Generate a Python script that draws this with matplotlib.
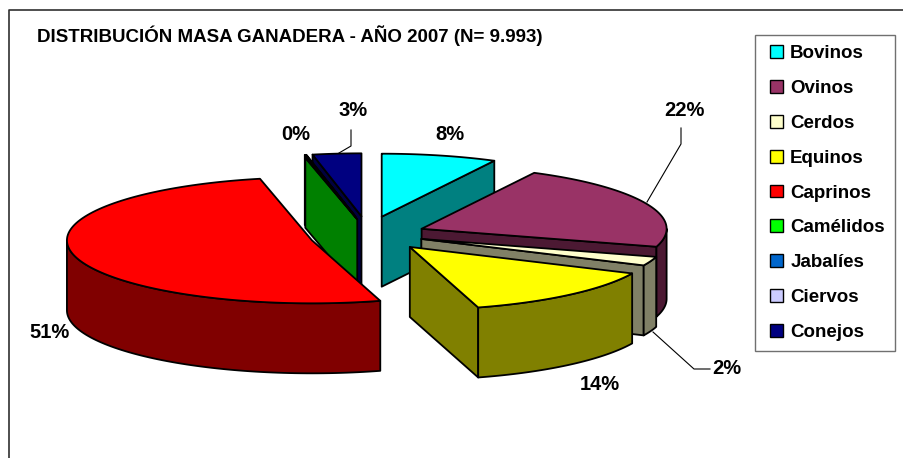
import numpy as np
import matplotlib
matplotlib.use("Agg")
import matplotlib.pyplot as plt
from matplotlib.legend_handler import HandlerPatch
from matplotlib.patches import Patch

# Data
categories = ["Bovinos", "Ovinos", "Cerdos", "Equinos", "Caprinos", "Camélidos", "Jabalíes", "Ciervos", "Conejos"]
values = [7.6, 22.0, 2.3, 13.6, 51.1, 0.1, 0.05, 0.05, 3.2]
title = "DISTRIBUCIÓN MASA GANADERA - AÑO 2007 (N= 9.993)"

# Colours
top_colors = ["#00FFFF", "#993366", "#FFFFCC", "#FFFF00", "#FF0000", "#00FF00", "#0066CC", "#CCCCFF", "#000080"]
side_colors = ["#008080", "#4C1933", "#808066", "#808000", "#800000", "#008000", "#003366", "#666680", "#000040"]

# Pie layout in pixels
cx, cy = 367.5, 231.7
rx, ry = 245, 63
depth = 70
explode = [0.245, 0.24, 0.235, 0.265, 0.234, 0.2, 0.245, 0.245, 0.245]
drop = [0, 3, 2, 2.6, 5, 0, 0, 0, 0]  # the original has some perspective
draw_order = [0, 8, 7, 6, 5, 1, 2, 4, 3]

# label position, and leader line bend points
label_pos = {0: (450, 135), 1: (684, 110), 2: (727, 368), 3: (600, 384), 4: (50, 333), 5: (296, 135), 8: (353, 111)}
leaders = {1: [(681, 128), (681, 144), (647, 202)],
           2: [(653, 332), (694, 369), (710, 369)],
           8: [(351, 130), (351, 146), (339, 153)]}

plt.rcParams["font.family"] = ["Liberation Sans", "DejaVu Sans"]
plt.rcParams["font.weight"] = "bold"

fig = plt.figure(figsize=(9.04, 4.58), dpi=100)
ax = fig.add_axes([0, 0, 1, 1])
ax.set_xlim(0, 904)
ax.set_ylim(458, 0)
ax.axis("off")

# chart frame, open at the bottom and right where the picture is cut
ax.plot([9, 9, 904], [458, 9.5, 9.5], color="#303030", lw=1.2)

edges = np.cumsum([0] + values) / sum(values) * 2 * np.pi


def point(ox, oy, t):
    return ox + rx * np.sin(t), oy - ry * np.cos(t)


def draw_face(xs, ys, color, z):
    ax.fill(xs, ys, facecolor=color, edgecolor="black", lw=1.3, joinstyle="round", zorder=z)


for z, i in enumerate(draw_order):
    t0, t1 = edges[i], edges[i + 1]
    mid = (t0 + t1) / 2
    ox = cx + explode[i] * rx * np.sin(mid)
    oy = cy - explode[i] * ry * np.cos(mid) + drop[i]
    base = 2 + z * 3

    # cut faces that look towards the viewer
    for t, visible in ((t0, np.sin(t0) < -1e-6), (t1, np.sin(t1) > 1e-6)):
        if visible:
            px, py = point(ox, oy, t)
            draw_face([ox, px, px, ox], [oy, py, py + depth, oy + depth], side_colors[i], base)

    # outer wall, front half only
    a0, a1 = max(t0, np.pi / 2), min(t1, 3 * np.pi / 2)
    if a1 > a0:
        arc = np.linspace(a0, a1, 80)
        px, py = point(ox, oy, arc)
        draw_face(np.r_[px, px[::-1]], np.r_[py, py[::-1] + depth], side_colors[i], base + 1)

    # top
    arc = np.linspace(t0, t1, 120)
    px, py = point(ox, oy, arc)
    draw_face(np.r_[ox, px], np.r_[oy, py], top_colors[i], base + 2)

# percentage labels and leader lines
for i, (lx, ly) in label_pos.items():
    pct = values[i] / sum(values) * 100
    ax.text(lx, ly, f"{pct:.0f}%", ha="center", va="center", fontsize=14.5, zorder=60)
for i, pts in leaders.items():
    ax.plot(*zip(*pts), color="black", lw=0.8, zorder=1)

ax.text(37, 36, title, ha="left", va="center", fontsize=13.5, zorder=60)

handles = [Patch(facecolor=c, edgecolor="black", lw=1.0) for c in top_colors]
leg = ax.legend(handles, categories, loc="upper left", bbox_to_anchor=(755, 35), bbox_transform=ax.transData,
                fontsize=13.5, frameon=True, fancybox=False, edgecolor="#707070", framealpha=1,
                handlelength=0.96, handleheight=0.68, handletextpad=0.37, labelspacing=0.95,
                borderpad=0.55, borderaxespad=0, handler_map={Patch: HandlerPatch(xpad=0.27)})
leg.get_frame().set_linewidth(1.0)

fig.savefig("out.png", dpi=100)
